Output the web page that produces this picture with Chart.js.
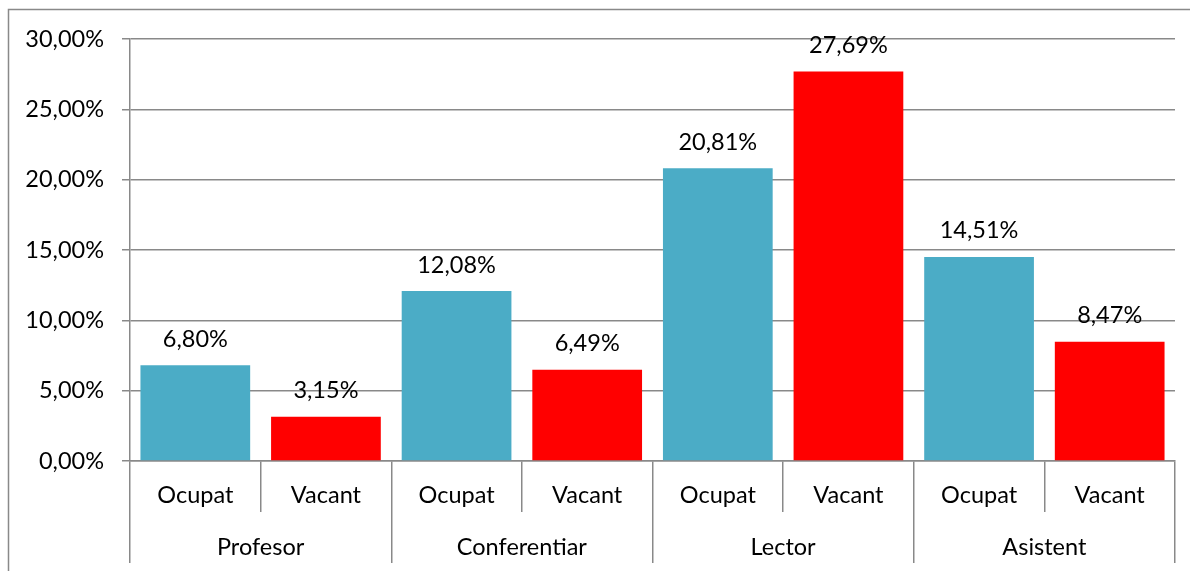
<!DOCTYPE html>
<html>
<head>
<meta charset="utf-8">
<script src="https://cdn.jsdelivr.net/npm/chart.js@4/dist/chart.umd.min.js"></script>
<style>
  html, body { margin: 0; padding: 0; background: #fff; }
  #wrap { width: 1190px; height: 571px; position: relative; }
</style>
</head>
<body>
<div id="wrap"><canvas id="c" width="1190" height="571"></canvas></div>
<script>
// ---- Data ----
const groups = ['Profesor', 'Conferentiar', 'Lector', 'Asistent'];
const statuses = ['Ocupat', 'Vacant'];
const ocupatValues = [6.80, 12.08, 20.81, 14.51];
const vacantValues = [3.15, 6.49, 27.69, 8.47];
const yTicks = [0, 5, 10, 15, 20, 25, 30];

// ---- Styles ----
const statusColors = { Ocupat: '#4BACC6', Vacant: '#FF0000' };
const gridColor = '#898989';
const FONT = 'Lato';
const FS = 23.5;

// Build the flat category list from the arrays
const innerLabels = [];
const values = [];
const colors = [];
groups.forEach((g, i) => {
  innerLabels.push(statuses[0]); values.push(ocupatValues[i]); colors.push(statusColors[statuses[0]]);
  innerLabels.push(statuses[1]); values.push(vacantValues[i]); colors.push(statusColors[statuses[1]]);
});

const fmt = v => v.toFixed(2).replace('.', ',') + '%';

const framePlugin = {
  id: 'frame',
  beforeDraw(chart) {
    const ctx = chart.ctx;
    ctx.save();
    ctx.fillStyle = '#fff';
    ctx.fillRect(0, 0, chart.width, chart.height);
    ctx.strokeStyle = gridColor;
    ctx.lineWidth = 1.5;
    ctx.beginPath();
    ctx.moveTo(8.5, chart.height + 5);
    ctx.lineTo(8.5, 9.5);
    ctx.lineTo(chart.width + 5, 9.5);
    ctx.stroke();
    ctx.restore();
  }
};

const labelPlugin = {
  id: 'valueLabels',
  afterDatasetsDraw(chart) {
    const ctx = chart.ctx;
    const meta = chart.getDatasetMeta(0);
    ctx.save();
    ctx.font = FS + 'px ' + FONT;
    ctx.fillStyle = '#000';
    ctx.textAlign = 'center';
    ctx.textBaseline = 'middle';
    meta.data.forEach((bar, i) => {
      ctx.fillText(fmt(values[i]), bar.x, bar.y - 26);
    });
    ctx.restore();
  }
};

new Chart(document.getElementById('c'), {
  type: 'bar',
  data: {
    labels: innerLabels,
    datasets: [{
      data: values,
      backgroundColor: colors,
      borderWidth: 0,
      barPercentage: 0.84,
      categoryPercentage: 1.0
    }]
  },
  options: {
    responsive: false,
    animation: false,
    events: [],
    layout: { padding: { left: 10, right: 15, top: 39, bottom: 8 } },
    plugins: { legend: { display: false }, tooltip: { enabled: false } },
    scales: {
      y: {
        min: 0, max: 30,
        afterBuildTicks: s => { s.ticks = yTicks.map(v => ({ value: v })); },
        afterFit: s => { s.width = 120; },
        ticks: {
          callback: v => fmt(v),
          font: { family: FONT, size: FS },
          color: '#000',
          padding: 18
        },
        grid: { color: gridColor, lineWidth: 1.5, tickLength: 8, drawTicks: true },
        border: { display: true, color: gridColor, width: 1.5 }
      },
      x: {
        type: 'category',
        position: 'bottom',
        afterFit: s => { s.height = 51; },
        ticks: {
          font: { family: FONT, size: FS },
          color: '#000',
          padding: -31,
          maxRotation: 0,
          autoSkip: false
        },
        grid: { offset: true, drawOnChartArea: false, tickLength: 51, color: gridColor, lineWidth: 1.5 },
        border: { display: true, color: gridColor, width: 1.5 }
      },
      x2: {
        type: 'category',
        position: 'bottom',
        labels: groups,
        afterFit: s => { s.height = 51; },
        ticks: {
          font: { family: FONT, size: FS },
          color: '#000',
          padding: -30,
          maxRotation: 0,
          autoSkip: false
        },
        grid: { offset: true, drawOnChartArea: false, tickLength: 51, color: gridColor, lineWidth: 1.5 },
        border: { display: false }
      }
    }
  },
  plugins: [framePlugin, labelPlugin]
});
</script>
</body>
</html>
